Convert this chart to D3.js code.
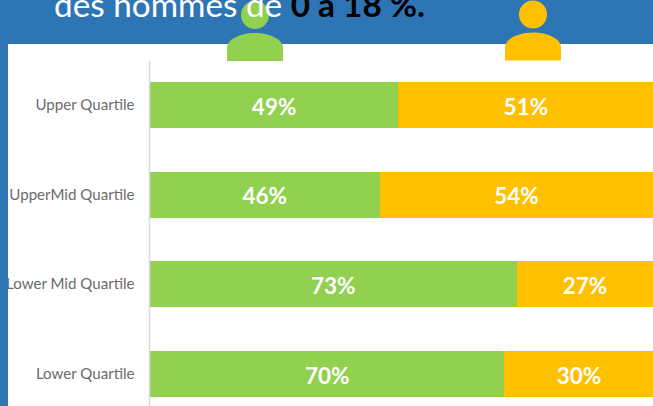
<!DOCTYPE html>
<html>
<head>
<meta charset="utf-8">
<script src="https://cdn.jsdelivr.net/npm/d3@7"></script>
<style>
  html, body { margin: 0; padding: 0; background: #2e75b6; overflow: hidden; }
  text { font-family: Lato, "Open Sans", sans-serif; }
</style>
</head>
<body>
<div id="chart"></div>
<script>
// Share of women / men per pay quartile
const quartiles = ['Upper Quartile', 'UpperMid Quartile', 'Lower Mid Quartile', 'Lower Quartile'];
const women = [49.3, 45.6, 72.8, 70.4];
const men = [50.7, 54.4, 27.2, 29.6];
const titleParts = ['des hommes de ', '0 à 18 %.'];

const fullWidth = 653;
const fullHeight = 406;
const colors = { blue: '#2e75b6', women: '#92d050', men: '#ffc000', axis: '#d9d9d9', label: '#6b6b6b' };

const svg = d3.select('#chart').append('svg')
  .attr('width', fullWidth)
  .attr('height', fullHeight)
  .style('display', 'block');

// White panel on the blue slide
svg.append('clipPath').attr('id', 'panel')
  .append('rect').attr('x', 8).attr('y', 44).attr('width', fullWidth).attr('height', fullHeight);
svg.append('rect')
  .attr('x', 8).attr('y', 44)
  .attr('width', fullWidth).attr('height', fullHeight)
  .attr('fill', '#fff');

// Scales
const x = d3.scaleLinear().domain([0, 100]).range([150, 653.5]);
const y = d3.scaleBand()
  .domain(quartiles)
  .range([60.2, 419])
  .paddingInner(0.487)
  .paddingOuter(0.2435);

// Stacked bars
const rows = quartiles.map((q, i) => ({ q, women: women[i], men: men[i] }));
const series = d3.stack().keys(['women', 'men'])(rows);

const layers = svg.selectAll('.layer')
  .data(series)
  .join('g')
    .attr('class', 'layer')
    .attr('fill', d => colors[d.key]);

layers.selectAll('rect')
  .data(d => d)
  .join('rect')
    .attr('x', d => x(d[0]))
    .attr('y', d => y(d.data.q))
    .attr('width', d => x(d[1]) - x(d[0]))
    .attr('height', y.bandwidth())
    .attr('shape-rendering', 'crispEdges');

// Percent labels
layers.selectAll('text')
  .data(d => d)
  .join('text')
    .attr('x', d => (x(d[0]) + x(d[1])) / 2)
    .attr('y', d => y(d.data.q) + y.bandwidth() / 2 + 1.5)
    .attr('dy', '0.36em')
    .attr('text-anchor', 'middle')
    .attr('font-size', 22.5)
    .attr('font-weight', 'bold')
    .attr('fill', '#fff')
    .text(d => `${Math.round(d[1] - d[0])}%`);

// Category axis, labels get clipped by the panel edge
const axis = svg.append('g')
  .attr('clip-path', 'url(#panel)')
  .append('g')
  .attr('transform', 'translate(149.5,0)')
  .call(d3.axisLeft(y).tickSize(0).tickPadding(15));
axis.select('.domain').remove();
axis.selectAll('text')
  .attr('font-family', 'Lato, "Open Sans", sans-serif')
  .attr('font-size', 15.1)
  .attr('fill', colors.label);

svg.append('line')
  .attr('x1', 149.5).attr('x2', 149.5)
  .attr('y1', 61).attr('y2', fullHeight)
  .attr('stroke', colors.axis)
  .attr('stroke-width', 1.5);

// Person icons used as legend
function person(cx, top, color) {
  const g = svg.append('g').attr('fill', color);
  g.append('circle').attr('cx', cx).attr('cy', top + 14).attr('r', 14);
  g.append('path').attr('d', `M${cx - 28},${top + 60} V${top + 47} C${cx - 28},${top + 38} ${cx - 14},${top + 32} ${cx},${top + 32} C${cx + 14},${top + 32} ${cx + 28},${top + 38} ${cx + 28},${top + 47} V${top + 60} Z`);
}
person(255, 1, colors.women);
person(533, 0.5, colors.men);

// Title sits over the icons, cut off by the top of the crop
const title = svg.append('text')
  .attr('x', 54).attr('y', 17)
  .attr('font-size', 33.3)
  .attr('fill', '#fff');
title.append('tspan').text(titleParts[0]);
title.append('tspan').attr('fill', '#000').attr('font-weight', 'bold').text(titleParts[1]);
</script>
</body>
</html>
